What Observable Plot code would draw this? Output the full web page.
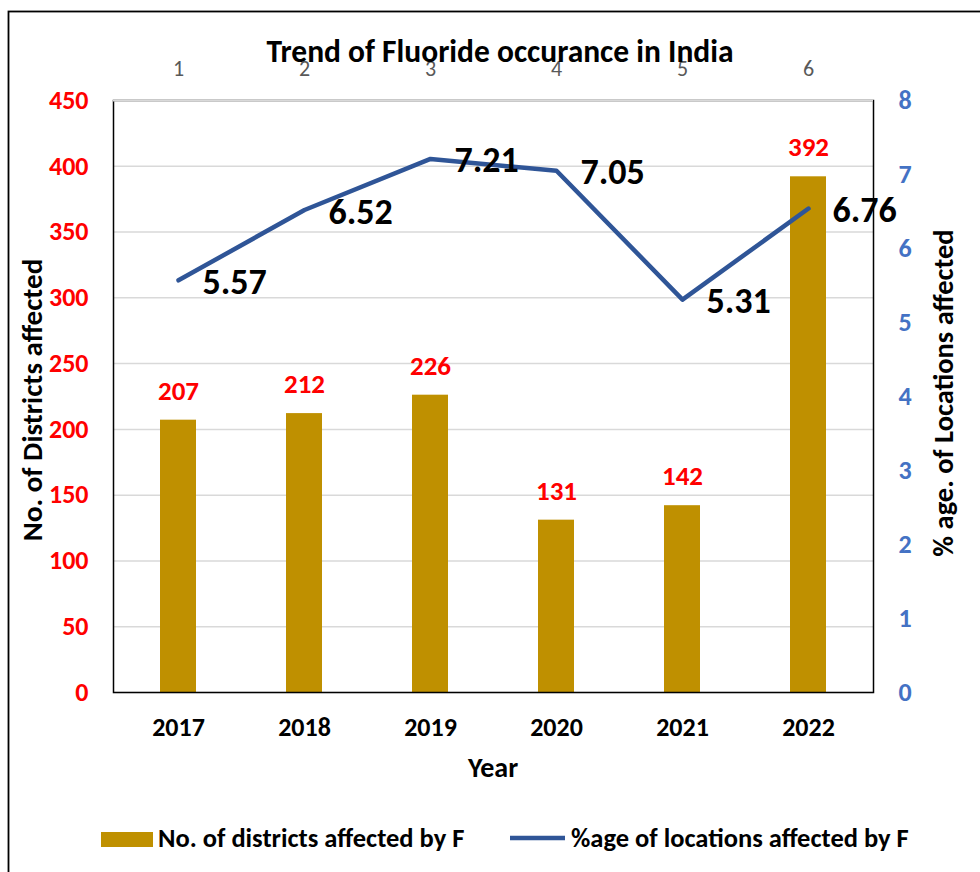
<!DOCTYPE html>
<html><head><meta charset="utf-8">
<script src="https://cdn.jsdelivr.net/npm/d3@7"></script>
<script src="https://cdn.jsdelivr.net/npm/@observablehq/plot@0.6"></script>
<style>
body{margin:0;background:#fff;overflow:hidden;}
#chart{width:980px;height:872px;}
</style></head><body><div id="chart"></div>
<script>
const years = ["2017","2018","2019","2020","2021","2022"];
const topLabels = ["1","2","3","4","5","6"];
const districts = [207, 212, 226, 131, 142, 392];
// line values as drawn in the picture; labels as printed
const percent = [5.57, 6.52, 7.21, 7.05, 5.31, 6.54];
const percentLabels = ["5.57", "6.52", "7.21", "7.05", "5.31", "6.76"];
const leftTicks = [0,50,100,150,200,250,300,350,400,450];
const rightTicks = [0,1,2,3,4,5,6,7,8];
const titleText = "Trend of Fluoride occurance in India";
const xTitle = "Year";
const yLeftTitle = "No. of Districts affected";
const yRightTitle = "% age. of Locations affected";
const legendBar = "No. of districts affected by F";
const legendLine = "%age of locations affected by F";

const FONT = "Carlito, Calibri, Lato, sans-serif";
const GOLD = "#BF9000", BLUE = "#2F5597", AXBLUE = "#4472C4", RED = "#FF0000";
const YMAX = 450, PMAX = 8;
const toY = p => p * YMAX / PMAX;

const rows = years.map((y, i) => ({year: y, top: topLabels[i], d: districts[i], p: percent[i], py: toY(percent[i]), lab: percentLabels[i]}));
const topMap = new Map(rows.map(r => [r.year, r.top]));

const plot = Plot.plot({
  width: 980, height: 872,
  marginLeft: 113, marginRight: 107, marginTop: 100, marginBottom: 180,
  style: {fontFamily: FONT, background: "#fff", overflow: "visible"},
  x: {type: "band", domain: years, paddingInner: 0.716, paddingOuter: 0.358, align: 0.5},
  y: {domain: [0, YMAX]},
  marks: [
    Plot.gridY(leftTicks, {stroke: "#d9d9d9", strokeOpacity: 1, strokeWidth: 1.5}),
    Plot.barY(rows, {x: "year", y: "d", fill: GOLD}),
    Plot.frame({stroke: "#000", strokeWidth: 1.5}),
    Plot.ruleY([YMAX], {stroke: "#d9d9d9", strokeWidth: 2}),
    Plot.axisY(leftTicks, {anchor: "left", tickSize: 0, tickPadding: 25, fill: RED, fontWeight: "bold", fontSize: 26, label: null}),
    Plot.axisY(rightTicks.map(toY), {anchor: "right", tickSize: 0, tickPadding: 25, fill: AXBLUE, fontWeight: "bold", fontSize: 26, label: null, tickFormat: d => String(Math.round(d * PMAX / YMAX))}),
    Plot.axisX({anchor: "bottom", tickSize: 0, tickPadding: 25, fontWeight: "bold", fontSize: 26, fill: "#000", label: null}),
    Plot.axisX({anchor: "top", tickSize: 0, tickPadding: 25, fontSize: 22, fill: "#595959", label: null, tickFormat: d => topMap.get(d)}),
    Plot.line(rows, {x: "year", y: "py", stroke: BLUE, strokeWidth: 4.5, strokeLinejoin: "round", strokeLinecap: "round"}),
    Plot.text(rows, {x: "year", y: "d", text: d => String(d.d), dy: -29, fill: RED, fontWeight: "bold", fontSize: 27}),
    Plot.text(rows, {x: "year", y: "py", text: "lab", dx: 24, dy: 2, textAnchor: "start", fill: "#000", fontWeight: "bold", fontSize: 36})
  ]
});

const svg = d3.select(plot);
svg.insert("rect", ":first-child").attr("x", 8.5).attr("y", 11.5).attr("width", 1000).attr("height", 900)
  .attr("fill", "#fff").attr("stroke", "#000").attr("stroke-width", 1.8);
const g = svg.append("g").attr("font-family", FONT).attr("font-weight", "bold").attr("fill", "#000");
g.append("text").attr("x", 500).attr("y", 62).attr("text-anchor", "middle").attr("font-size", 31.5).text(titleText);
g.append("text").attr("x", 493).attr("y", 777).attr("text-anchor", "middle").attr("font-size", 28).text(xTitle);
g.append("text").attr("transform", "translate(41.5,400) rotate(-90)").attr("text-anchor", "middle").attr("font-size", 29).text(yLeftTitle);
g.append("text").attr("transform", "translate(953,393) rotate(-90)").attr("text-anchor", "middle").attr("font-size", 28.5).text(yRightTitle);
g.append("rect").attr("x", 101).attr("y", 832).attr("width", 52).attr("height", 15).attr("fill", GOLD);
g.append("text").attr("x", 158).attr("y", 847).attr("text-anchor", "start").attr("font-size", 26.5).text(legendBar);
g.append("line").attr("x1", 510).attr("x2", 565).attr("y1", 838).attr("y2", 838).attr("stroke", BLUE).attr("stroke-width", 4.5);
g.append("text").attr("x", 571).attr("y", 847).attr("text-anchor", "start").attr("font-size", 26.5).text(legendLine);

document.getElementById("chart").appendChild(plot);
</script></body></html>
